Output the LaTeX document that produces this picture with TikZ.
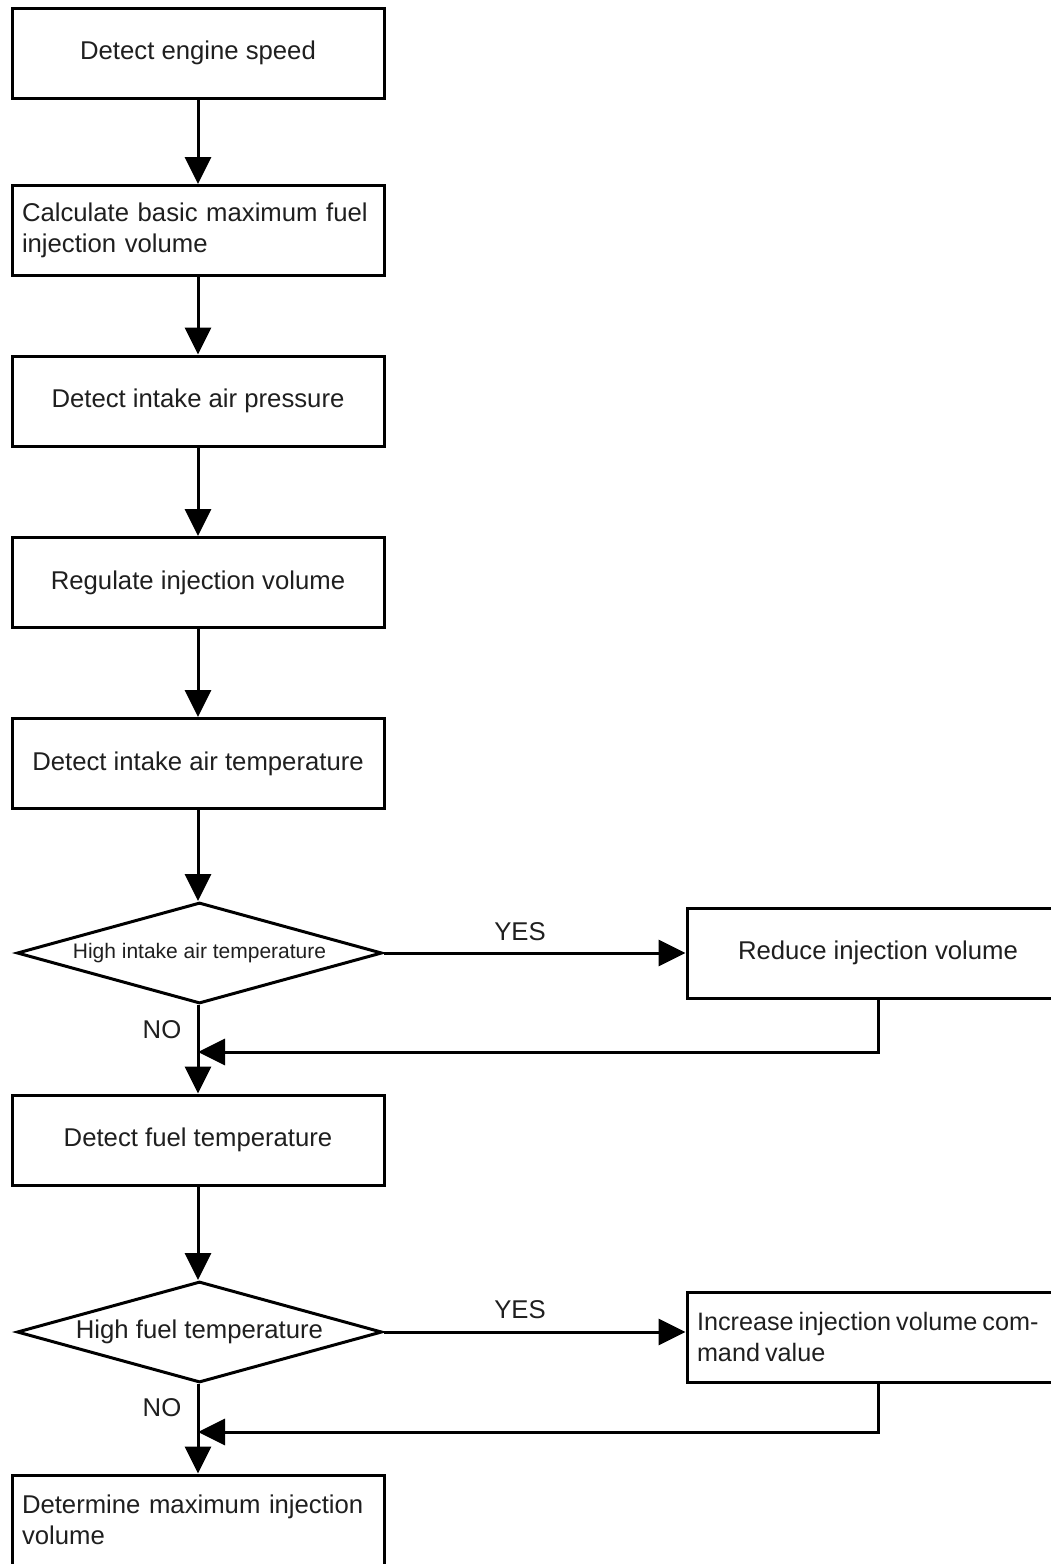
\documentclass[tikz,border=0pt]{standalone}
\usepackage{fontspec}
\setmainfont{Liberation Sans}
\usetikzlibrary{arrows.meta,shapes.geometric}
\begin{document}
\begin{tikzpicture}[x=1pt,y=-1pt,
  every node/.style={text=black!88, font=\fontsize{25.7}{31}\selectfont},
  box/.style={draw=black, line width=3pt, rectangle, minimum width=372pt, minimum height=90pt, inner sep=0pt, align=center},
  lbox/.style={box, align=left, text width=352pt},
  rbox/.style={box, minimum width=382pt},
  dec/.style={draw=black, line width=3pt, diamond, aspect=3.6, minimum width=365pt, minimum height=101pt, inner sep=0pt},
  conn/.style={line width=3pt, -{Triangle[length=27pt,width=26pt]}},
  link/.style={line width=3pt},
  lab/.style={inner sep=0pt}
]
\useasboundingbox (0,0) rectangle (1051,1564);
\fill[white] (0,0) rectangle (1051,1564);
\clip (0,0) rectangle (1051,1564);

\node[box]  (b1) at (198,53)    {Detect engine speed};
\node[lbox] (b2) at (198,230.5) {Calculate basic maximum fuel\\injection volume};
\node[box]  (b3) at (198,401)   {Detect intake air pressure};
\node[box]  (b4) at (198,582.5) {Regulate injection volume};
\node[box]  (b5) at (198,763.5) {Detect intake air temperature};
\node[dec, font=\fontsize{21}{25}\selectfont] (d1) at (199.5,953) {High intake air temperature};
\node[rbox] (r1) at (878,953)   {Reduce injection volume};
\node[box]  (b6) at (198,1140)  {Detect fuel temperature};
\node[dec]  (d2) at (199.5,1332) {High fuel temperature};
\node[rbox, align=left, text width=362pt, font=\fontsize{25.2}{31}\selectfont] (r2) at (878,1337) {\spaceskip=0.2em\relax Increase injection volume com-\\mand value};
\node[lbox] (b7) at (198,1520)  {Determine maximum injection\\volume};

\node[lab] (y1) at (520,932)  {YES};
\node[lab] (n1) at (162,1030) {NO};
\node[lab] (y2) at (520,1310) {YES};
\node[lab] (n2) at (162,1408) {NO};

\coordinate (j1) at (198,1052);
\coordinate (j2) at (198,1432);

\draw[conn] (b1) -- (b2);
\draw[conn] (b2) -- (b3);
\draw[conn] (b3) -- (b4);
\draw[conn] (b4) -- (b5);
\draw[conn] (b5.south) -- (b5.south |- d1.north);
\draw[conn] (d1.east) -- (d1.east -| r1.west);
\draw[conn] (d1.south -| b6.north) -- (b6.north);
\draw[conn] (r1.south) |- (j1);
\draw[conn] (b6.south) -- (b6.south |- d2.north);
\draw[conn] (d2.east) -- (d2.east -| r2.west);
\draw[conn] (d2.south -| b7.north) -- (b7.north);
\draw[conn] (r2.south) |- (j2);
\end{tikzpicture}
\end{document}
